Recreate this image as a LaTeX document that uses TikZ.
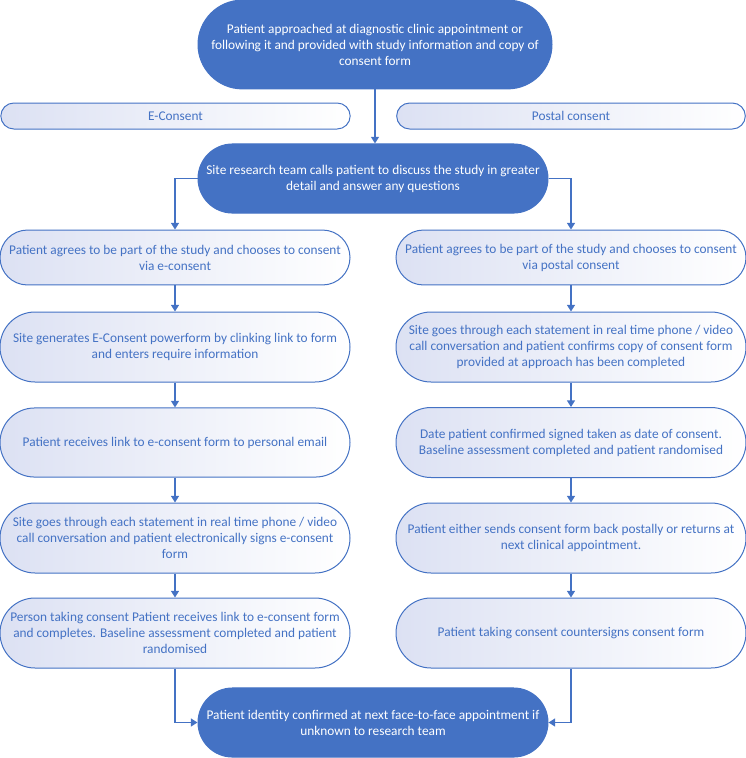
\documentclass[tikz,border=0pt]{standalone}
\usepackage{fontspec}
\setmainfont{Carlito}
\usetikzlibrary{arrows.meta}
\definecolor{obl}{RGB}{68,114,196}
\definecolor{lav}{RGB}{220,225,243}
\begin{document}
\begin{tikzpicture}[x=0.75pt,y=-0.75pt,
  pill/.style={rectangle, rounded corners=#1, minimum height=2*#1, inner sep=0pt, align=center,
    font=\fontsize{10}{12}\selectfont},
  dark/.style={draw=obl, fill=obl, text=white, line width=0.75pt},
  light/.style={draw=obl, left color=lav, right color=white, text=obl, line width=0.75pt},
  conn/.style={draw=obl, line width=1pt, -{Triangle[width=6pt,length=5pt]}},
  plain/.style={draw=obl, line width=1pt}]
\useasboundingbox (0,0) rectangle (746,758);

\node[pill=33.3pt, dark, minimum width=265.5pt] (top) at (375,44.5)
  {Patient approached at diagnostic clinic appointment or\\following it and provided with study information and copy of\\consent form};
\node[pill=9.75pt, light, minimum width=262pt] (econ) at (175.5,116) {E-Consent};
\node[pill=9.75pt, light, minimum width=261.5pt] (post) at (571,116) {Postal consent};
\node[pill=25.9pt, dark, minimum width=262.5pt] (site) at (373,178.5)
  {Site research team calls patient to discuss the study in greater\\detail and answer any questions};

\node[pill=20.6pt, light, minimum width=262.5pt] (l1) at (175,257.5)
  {Patient agrees to be part of the study and chooses to consent\\via e-consent};
\node[pill=26.25pt, light, minimum width=262.5pt] (l2) at (175,347)
  {Site generates E-Consent powerform by clinking link to form\\and enters require information};
\node[pill=25.9pt, light, minimum width=262.5pt] (l3) at (175,442.5)
  {Patient receives link to e-consent form to personal email};
\node[pill=26.25pt, light, minimum width=262.5pt] (l4) at (175,538)
  {Site goes through each statement in real time phone / video\\call conversation and patient electronically signs e-consent\\form};
\node[pill=26.25pt, light, minimum width=262.5pt] (l5) at (175,633)
  {Person taking consent Patient receives link to e-consent form\\and completes. Baseline assessment completed and patient\\randomised};

\node[pill=20.6pt, light, minimum width=262.5pt] (r1) at (571,257.5)
  {Patient agrees to be part of the study and chooses to consent\\via postal consent};
\node[pill=26.25pt, light, minimum width=262.5pt] (r2) at (571,347)
  {Site goes through each statement in real time phone / video\\call conversation and patient confirms copy of consent form\\provided at approach has been completed};
\node[pill=26.25pt, light, minimum width=262.5pt] (r3) at (571,442.5)
  {Date patient confirmed signed taken as date of consent.\\Baseline assessment completed and patient randomised};
\node[pill=26.25pt, light, minimum width=262.5pt] (r4) at (571,538)
  {Patient either sends consent form back postally or returns at\\next clinical appointment.};
\node[pill=26.25pt, light, minimum width=262.5pt] (r5) at (571,633)
  {Patient taking consent countersigns consent form};

\node[pill=25.9pt, dark, minimum width=262.5pt] (bot) at (373,722.5)
  {Patient identity confirmed at next face-to-face appointment if\\unknown to research team};

\draw[conn] (top.south) -- (top.south |- site.north);
\draw[conn] (site.west) -| (l1.north);
\draw[conn] (site.east) -| (r1.north);
\draw[conn] (l1) -- (l2);
\draw[conn] (l2) -- (l3);
\draw[conn] (l3) -- (l4);
\draw[conn] (l4) -- (l5);
\draw[conn] (r1) -- (r2);
\draw[conn] (r2) -- (r3);
\draw[conn] (r3) -- (r4);
\draw[conn] (r4) -- (r5);
\draw[conn] (l5.south) |- (bot.west);
\draw[conn] (r5.south) |- (bot.east);
\end{tikzpicture}
\end{document}
